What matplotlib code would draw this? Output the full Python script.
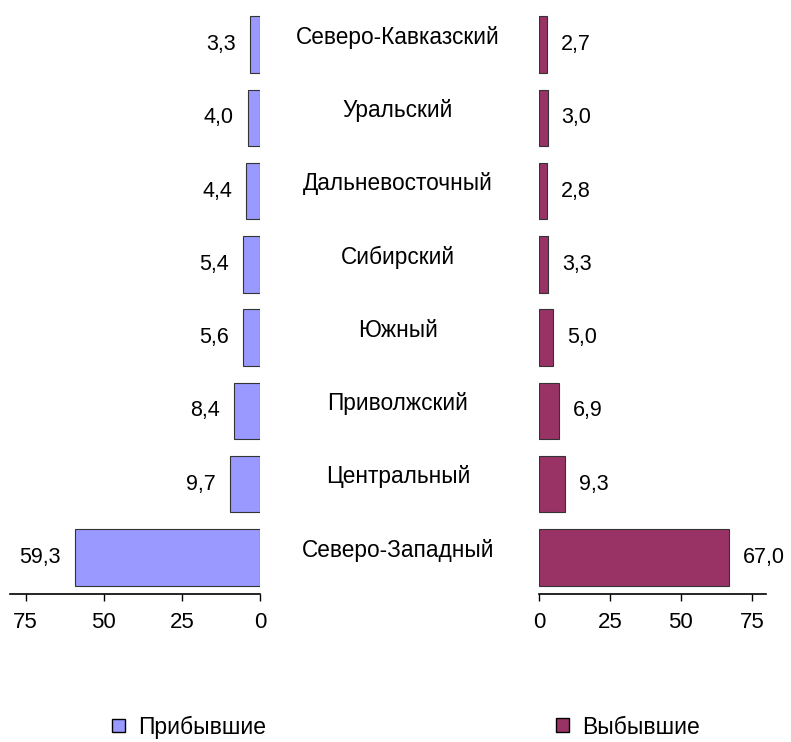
import matplotlib.pyplot as plt
import matplotlib.patches as mpatches
from matplotlib import rcParams

rcParams['font.family'] = 'sans-serif'
rcParams['font.sans-serif'] = ['Liberation Sans', 'DejaVu Sans']
rcParams['font.size'] = 16

regions = ['Северо-Кавказский', 'Уральский', 'Дальневосточный', 'Сибирский',
           'Южный', 'Приволжский', 'Центральный', 'Северо-Западный']
arrived = [3.3, 4.0, 4.4, 5.4, 5.6, 8.4, 9.7, 59.3]
departed = [2.7, 3.0, 2.8, 3.3, 5.0, 6.9, 9.3, 67.0]

c_in = '#9999FF'
c_out = '#993366'

W, H = 791, 742
fig = plt.figure(figsize=(W / 100, H / 100), dpi=100)

bottom = (H - 594) / H
height = (594 - 8) / H
ax1 = fig.add_axes([10 / W, bottom, 250 / W, height])
ax2 = fig.add_axes([539 / W, bottom, 227 / W, height])

# позиции сверху вниз
pos = list(range(len(regions) - 1, -1, -1))

ax1.barh(pos, arrived, height=0.77, color=c_in, edgecolor='#333333', linewidth=0.8)
ax2.barh(pos, departed, height=0.77, color=c_out, edgecolor='#333333', linewidth=0.8)

ax1.set_xlim(80, 0)
ax2.set_xlim(0, 80)

def fmt(v):
    return f'{v:.1f}'.replace('.', ',')

for p, v in zip(pos, arrived):
    ax1.annotate(fmt(v), (v, p), xytext=(-10, 0), textcoords='offset points',
                 ha='right', va='center', fontsize=15.5)
for p, v in zip(pos, departed):
    ax2.annotate(fmt(v), (v, p), xytext=(10, 0), textcoords='offset points',
                 ha='left', va='center', fontsize=15.5)
# подпись региона между осями
for p, name in zip(pos, regions):
    ax2.annotate(name, (0, p + 0.1), xycoords=('axes fraction', 'data'),
                 xytext=(-141, 0), textcoords='offset pixels',
                 ha='center', va='center', fontsize=16.3)

for ax in (ax1, ax2):
    ax.set_ylim(-0.5, 7.5)
    ax.set_xticks([0, 25, 50, 75])
    ax.set_yticks([])
    for s in ('top', 'left', 'right'):
        ax.spines[s].set_visible(False)
    ax.spines['bottom'].set_linewidth(1.2)
    ax.tick_params(axis='x', direction='out', length=5, width=1, labelsize=16, pad=8)

h1 = mpatches.Patch(facecolor=c_in, edgecolor='black', linewidth=1)
h2 = mpatches.Patch(facecolor=c_out, edgecolor='black', linewidth=1)
fig.legend([h1], ['Прибывшие'], loc='center left', bbox_to_anchor=(112 / W, 1 - 727 / H),
           frameon=False, fontsize=16.5, handlelength=0.55, handleheight=0.55,
           handletextpad=0.6, borderpad=0, borderaxespad=0)
fig.legend([h2], ['Выбывшие'], loc='center left', bbox_to_anchor=(556 / W, 1 - 727 / H),
           frameon=False, fontsize=16.5, handlelength=0.55, handleheight=0.55,
           handletextpad=0.6, borderpad=0, borderaxespad=0)

plt.savefig('out.png', dpi=100)
